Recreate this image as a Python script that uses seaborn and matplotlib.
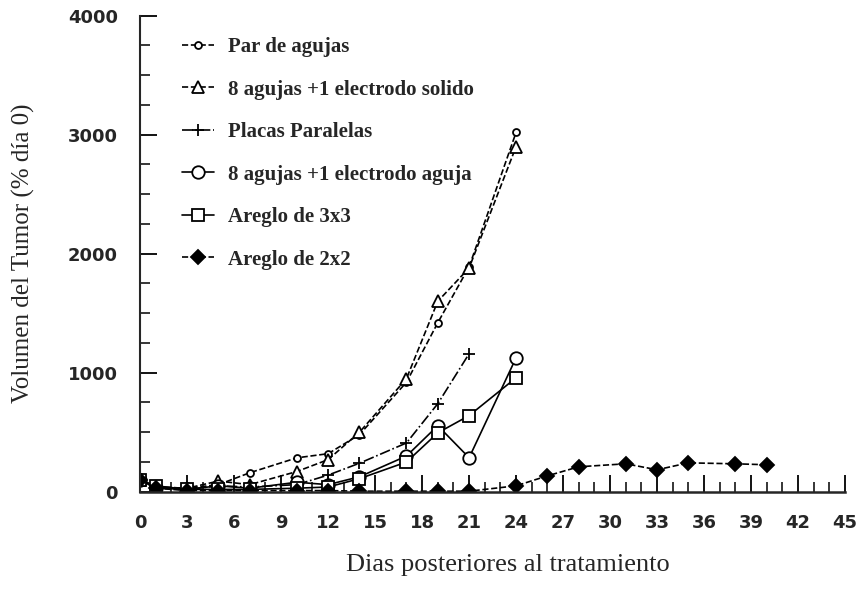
import matplotlib
matplotlib.use("Agg")
import matplotlib.pyplot as plt
import seaborn as sns
from matplotlib.ticker import MultipleLocator

# Values (tumour volume, % of day 0)
days = [0, 1, 3, 5, 7, 10, 12, 14, 17, 19, 21, 24]
par_agujas = [100, 40, 30, 60, 160, 285, 320, 480, 920, 1420, 1890, 3020]
agujas_solido = [100, 40, 30, 90, 60, 170, 270, 500, 950, 1600, 1880, 2900]
days_placas = [0, 1, 3, 5, 7, 10, 12, 14, 17, 19, 21]
placas = [100, 40, 20, 50, 40, 60, 140, 240, 410, 740, 1160]
agujas_aguja = [100, 30, 20, 50, 30, 80, 60, 126, 300, 555, 286, 1126]
areglo_3x3 = [100, 50, 20, 20, 20, 30, 40, 110, 250, 495, 640, 958]
days_2x2 = [0, 1, 3, 5, 7, 10, 12, 14, 17, 19, 21, 24, 26, 28, 31, 33, 35, 38, 40]
areglo_2x2 = [100, 30, 10, 10, 10, 10, 10, 5, 5, 5, 5, 50, 134, 210, 235, 185, 243, 235, 227]

labels = ["Par de agujas", "8 agujas +1 electrodo solido", "Placas Paralelas",
          "8 agujas +1 electrodo aguja", "Areglo de 3x3", "Areglo de 2x2"]
xtick_labels = ["0", "3", "6", "9", "12", "15", "18", "21", "24", "27", "30", "33", "36", "39", "42", "45"]

sns.set_style("ticks")
plt.rcParams['font.family'] = ['Liberation Serif', 'DejaVu Serif']

fig = plt.figure(figsize=(8.65, 5.99), dpi=100)
ax = fig.add_axes([0.162, 0.179, 0.815, 0.795])

series = [
    (days, par_agujas, dict(marker="o", markersize=5, linestyle="--")),
    (days, agujas_solido, dict(marker="^", markersize=8, linestyle="--")),
    (days_placas, placas, dict(marker="+", markersize=9, linestyle="-.")),
    (days, agujas_aguja, dict(marker="o", markersize=9, linestyle="-")),
    (days, areglo_3x3, dict(marker="s", markersize=9, linestyle="-")),
    (days_2x2, areglo_2x2, dict(marker="D", markersize=7, linestyle="--")),
]
for (x, y, style), lab in zip(series, labels):
    face = "black" if style["marker"] == "D" else "white"
    sns.lineplot(x=x, y=y, ax=ax, color="black", linewidth=1.2, label=lab,
                 markerfacecolor=face, markeredgecolor="black", markeredgewidth=1.3,
                 **style)

ax.set_xlim(0, 45)
ax.set_ylim(0, 4000)
ax.set_xticks(range(0, 46, 3))
ax.set_xticklabels(xtick_labels)
ax.xaxis.set_minor_locator(MultipleLocator(1))
ax.set_yticks([0, 1000, 2000, 3000, 4000])
ax.yaxis.set_minor_locator(MultipleLocator(250))
ax.tick_params(axis="both", which="major", direction="in", length=12, width=1.3, color="black")
ax.tick_params(axis="both", which="minor", direction="in", length=7, width=1.1, color="black")
ax.tick_params(axis="x", which="major", pad=16)
ax.tick_params(axis="y", which="major", pad=16)
for lab in ax.get_xticklabels() + ax.get_yticklabels():
    lab.set_fontfamily("DejaVu Sans")
    lab.set_fontweight("bold")
    lab.set_fontsize(13)

sns.despine(ax=ax)
ax.spines["left"].set_linewidth(1.5)
ax.spines["bottom"].set_linewidth(1.8)

ax.set_xlabel("Dias posteriores al tratamiento", fontsize=19)
ax.xaxis.set_label_coords(0.522, -0.13)
ax.set_ylabel("Volumen del Tumor (% día 0)", fontsize=18, labelpad=24)

ax.legend(loc="upper left", bbox_to_anchor=(0.06, 0.955), frameon=False,
          prop={"family": "Liberation Serif", "weight": "bold", "size": 15},
          handlelength=1.5, handletextpad=0.7, labelspacing=1.08,
          borderaxespad=0, borderpad=0)

fig.savefig("out.png", dpi=100)
